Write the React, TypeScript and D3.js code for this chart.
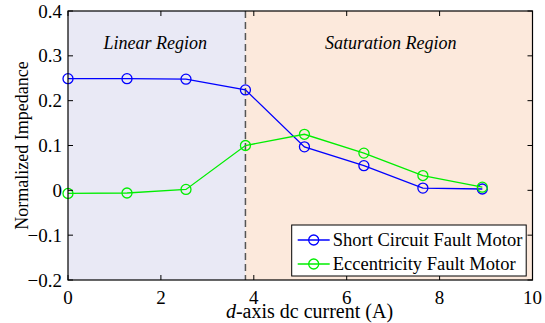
import React from "react";
import * as d3 from "d3";

// values
const current = [0, 1.27, 2.54, 3.82, 5.09, 6.37, 7.64, 8.92];
const shortCircuit = [0.249, 0.249, 0.248, 0.224, 0.097, 0.055, 0.005, 0.003];
const eccentricity = [-0.007, -0.006, 0.002, 0.1, 0.125, 0.083, 0.033, 0.007];
const xTicks = [0, 2, 4, 6, 8, 10];
const yTicks = [-0.2, -0.1, 0, 0.1, 0.2, 0.3, 0.4];
const boundary = 3.82;

const seriesList = [
  { name: "Short Circuit Fault Motor", values: shortCircuit, color: "#0000ff" },
  { name: "Eccentricity Fault Motor", values: eccentricity, color: "#00ee00" },
];

const W = 545;
const H = 323;
const margin = { left: 68, right: 12.5, top: 11, bottom: 43 };
const font = "Liberation Serif, Times New Roman, serif";

export default function App() {
  const iw = W - margin.left - margin.right;
  const ih = H - margin.top - margin.bottom;
  const x = d3.scaleLinear().domain([0, 10]).range([0, iw]);
  const y = d3.scaleLinear().domain([-0.2, 0.4]).range([ih, 0]);
  const line = d3
    .line<number>()
    .x((_, i) => x(current[i]))
    .y((v) => y(v));
  const fmt = (v: number) => (v === 0 ? "0" : d3.format(".1f")(v));
  const bx = x(boundary);

  const lx = 291.7 - margin.left;
  const ly = 225 - margin.top;
  const lw = 234.5;
  const lh = 51;

  return (
    <svg width={W} height={H} style={{ position: "absolute", left: 0, top: 0, fontFamily: font }}>
      <g transform={`translate(${margin.left},${margin.top})`} style={{ fontFamily: font }}>
        <rect x={0} y={0} width={bx} height={ih} fill="#e9e9f5" />
        <rect x={bx} y={0} width={iw - bx} height={ih} fill="#fce9dc" />
        <line x1={bx} x2={bx} y1={0} y2={ih} stroke="#555" strokeWidth={1.5} strokeDasharray="7,4" />

        <text x={x(1.88)} y={49 - margin.top} fontSize={18} fontStyle="italic" textAnchor="middle">
          Linear Region
        </text>
        <text x={x(6.95)} y={49 - margin.top} fontSize={18} fontStyle="italic" textAnchor="middle">
          Saturation Region
        </text>

        {seriesList.map((s) => (
          <g key={s.name}>
            <path d={line(s.values) ?? ""} fill="none" stroke={s.color} strokeWidth={1.3} />
            {s.values.map((v, i) => (
              <circle key={i} cx={x(current[i])} cy={y(v)} r={5} fill="none" stroke={s.color} strokeWidth={1.3} />
            ))}
          </g>
        ))}

        {/* ticks on all four sides, pointing inward */}
        {xTicks.map((t) => (
          <g key={"x" + t}>
            <line x1={x(t)} x2={x(t)} y1={ih} y2={ih - 5} stroke="#000" />
            <line x1={x(t)} x2={x(t)} y1={0} y2={5} stroke="#000" />
            <text x={x(t)} y={ih + 24} fontSize={19} textAnchor="middle">
              {t}
            </text>
          </g>
        ))}
        {yTicks.map((t) => (
          <g key={"y" + t}>
            <line x1={0} x2={5} y1={y(t)} y2={y(t)} stroke="#000" />
            <line x1={iw} x2={iw - 5} y1={y(t)} y2={y(t)} stroke="#000" />
            <text x={-6} y={y(t) + 6.5} fontSize={19} textAnchor="end">
              {fmt(t)}
            </text>
          </g>
        ))}
        <rect x={0} y={0} width={iw} height={ih} fill="none" stroke="#000" strokeWidth={1.2} />

        <g transform={`translate(${lx},${ly})`}>
          <rect x={0} y={0} width={lw} height={lh} fill="#fff" stroke="#000" strokeWidth={1} />
          {seriesList.map((s, i) => (
            <g key={s.name} transform={`translate(0,${15 + i * 24})`}>
              <line x1={6} x2={38} y1={0} y2={0} stroke={s.color} strokeWidth={1.3} />
              <circle cx={22} cy={0} r={5} fill="none" stroke={s.color} strokeWidth={1.3} />
              <text x={41} y={6} fontSize={18.5}>
                {s.name}
              </text>
            </g>
          ))}
        </g>

        <text x={309.5 - margin.left} y={318 - margin.top} fontSize={20} textAnchor="middle">
          <tspan fontStyle="italic">d</tspan>-axis dc current (A)
        </text>
        <text transform={`translate(${28 - margin.left},${ih / 2}) rotate(-90)`} fontSize={18} textAnchor="middle">
          Normalized Impedance
        </text>
      </g>
    </svg>
  );
}
